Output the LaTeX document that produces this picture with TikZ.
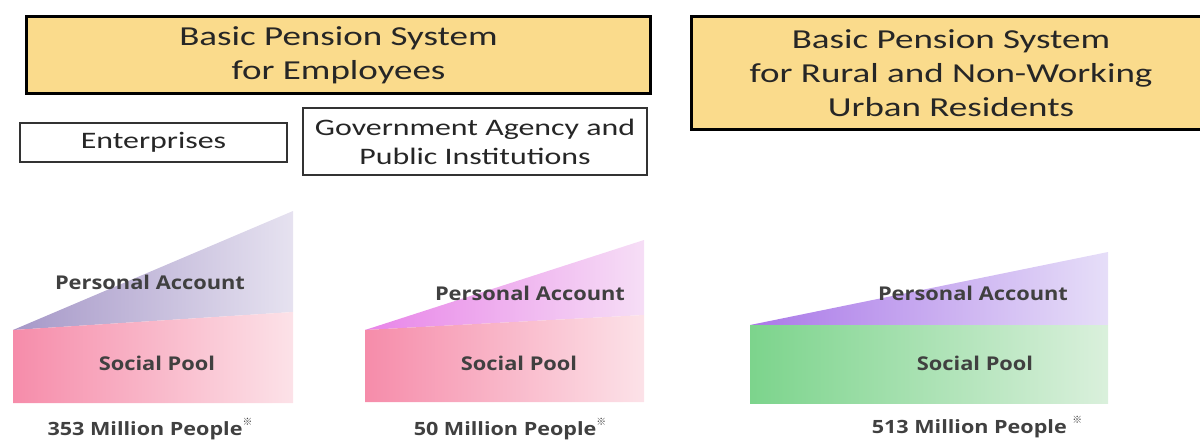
\documentclass[tikz,border=0pt]{standalone}
\usepackage{fontspec}
\setmainfont{Carlito}[FakeStretch=1.35]
\newfontfamily\lab{Open Sans}[FakeStretch=1.15]
\newfontfamily\labb{Open Sans}[FakeStretch=1.18]
\newfontfamily\cjk{Noto Sans CJK JP}
\definecolor{gold}{HTML}{FADB8C}
\definecolor{txt}{HTML}{262626}
\definecolor{labtxt}{HTML}{404040}
\tikzset{
  titlebox/.style={draw=black, line width=2.2pt, fill=gold, align=center, font=\fontsize{19.5}{24.2}\selectfont, text=txt, inner sep=0pt},
  subbox/.style={draw=black!80, line width=0.9pt, fill=white, align=center, font=\fontsize{16.8}{20.5}\selectfont, text=txt, inner sep=0pt},
  lbl/.style={font=\lab\bfseries\fontsize{13.5}{16}\selectfont, text=labtxt, inner sep=0pt},
  cnt/.style={font=\labb\bfseries\fontsize{13}{15}\selectfont, text=labtxt, inner sep=0pt},
}
\newcommand{\refmark}{\raisebox{0.55em}{\cjk\bfseries\fontsize{7}{7}\selectfont ※}}
\begin{document}
\begin{tikzpicture}[x=0.025cm, y=-0.025cm]
\useasboundingbox (0,0) rectangle (1200,440);
\clip (0,0) rectangle (1200,440);
% title boxes
\node[titlebox, minimum width=15.575cm, minimum height=1.925cm] (t1) at (338.5,55) {Basic Pension System\\for Employees};
\node[titlebox, minimum width=12.95cm, minimum height=2.825cm] (t2) at (951,73) {Basic Pension System\\for Rural and Non-Working\\Urban Residents};
\node[subbox, minimum width=6.675cm, minimum height=0.975cm] (ent) at (153.5,142.5) {Enterprises};
\node[subbox, minimum width=8.6cm, minimum height=1.675cm] (gov) at (475,141.5) {Government Agency and\\Public Institutions};
% shape 1
\shade[left color={rgb,255:red,166;green,152;blue,200}, right color={rgb,255:red,230;green,226;blue,240}] (13,330) -- (293,211) -- (293,312) -- cycle;
\shade[left color={rgb,255:red,246;green,140;blue,170}, right color={rgb,255:red,252;green,226;blue,232}] (13,330) -- (293,312) -- (293,403) -- (13,403) -- cycle;
% shape 2
\shade[left color={rgb,255:red,232;green,132;blue,232}, right color={rgb,255:red,246;green,222;blue,246}] (365,330) -- (644,240) -- (644,315) -- cycle;
\shade[left color={rgb,255:red,246;green,140;blue,170}, right color={rgb,255:red,252;green,226;blue,232}] (365,330) -- (644,315) -- (644,402) -- (365,402) -- cycle;
% shape 3
\shade[left color={rgb,255:red,170;green,120;blue,232}, right color={rgb,255:red,230;green,222;blue,248}] (750,325) -- (1108,252) -- (1108,325) -- cycle;
\shade[left color={rgb,255:red,124;green,212;blue,140}, right color={rgb,255:red,218;green,240;blue,220}] (750,325) -- (1108,325) -- (1108,403) -- (750,403) -- cycle;
% labels
\node[lbl] (pa1) at (150,282) {Personal Account};
\node[lbl] (sp1) at (157,363) {Social Pool};
\node[lbl] (pa2) at (530,293) {Personal Account};
\node[lbl] (sp2) at (519,363) {Social Pool};
\node[lbl] (pa3) at (973,293) {Personal Account};
\node[lbl] (sp3) at (975,363) {Social Pool};
\node[cnt] (c1) at (150,429) {353 Million People\refmark};
\node[cnt] (c2) at (510,429) {50 Million People\refmark};
\node[cnt] (c3) at (977,427) {513 Million People \refmark};
\end{tikzpicture}
\end{document}
